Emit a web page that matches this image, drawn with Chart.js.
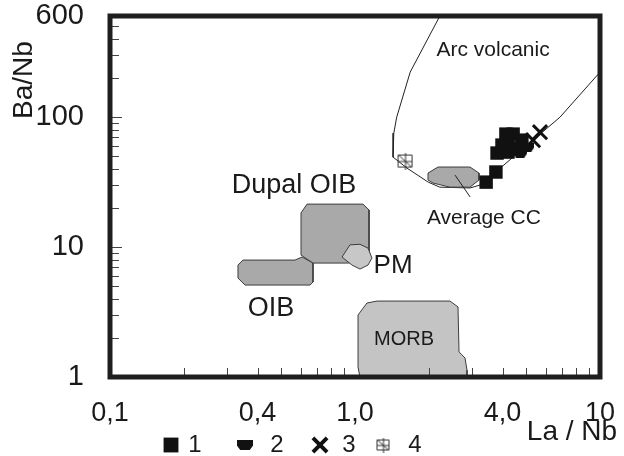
<!DOCTYPE html>
<html>
<head>
<meta charset="utf-8">
<script src="https://cdn.jsdelivr.net/npm/chart.js@4.4.1/dist/chart.umd.min.js"></script>
<style>
  html, body { margin: 0; padding: 0; background: #fff; }
</style>
</head>
<body>
<canvas id="chart-la-ba" width="624" height="456"></canvas>
<script>
  /* ============ DATOS ============ */

  // ejes (log)
  const xTicks = [0.1, 0.4, 1, 4, 10];
  const xTickLabels = ['0,1', '0,4', '1,0', '4,0', '10'];
  const yTicks = [1, 10, 100, 600];
  const yTickLabels = ['1', '10', '100', '600'];
  const xMinor = [0.2, 0.3, 0.4, 0.5, 0.6, 0.7, 0.8, 0.9, 2, 3, 4, 5, 6, 7, 8, 9];
  const yMinor = [2, 3, 4, 5, 6, 7, 8, 9, 10, 20, 30, 40, 50, 60, 70, 80, 90, 100, 200, 300, 400, 500];

  // muestras [La/Nb, Ba/Nb]
  const group1 = [[3.43, 31.6], [3.76, 37.8], [3.80, 52.9], [4.21, 53.8], [3.98, 60.9], [4.21, 63.1],
                  [4.13, 74.0], [4.42, 74.0], [4.80, 66.5], [4.50, 57.7]];
  const group2 = [[4.72, 52.9], [5.04, 58.8]];
  const group3 = [[5.33, 66.5], [5.69, 76.6]];
  const group4 = [[1.60, 45.9]];

  // campos
  const oibField   = [[0.349, 7.94], [0.569, 7.94], [0.608, 8.38], [0.674, 7.53], [0.674, 5.38], [0.655, 5.10],
                      [0.356, 5.10], [0.333, 5.77], [0.333, 7.27], [0.349, 7.94]];
  const dupalField = [[0.602, 18.3], [0.637, 21.4], [1.078, 21.4], [1.141, 19.3], [1.141, 7.94], [0.936, 7.53],
                      [0.674, 7.53], [0.602, 8.68], [0.602, 18.3]];
  const pmField    = [[0.885, 8.38], [0.954, 10.4], [1.048, 10.5], [1.130, 9.82], [1.173, 8.23], [1.130, 7.27],
                      [1.048, 6.77], [0.972, 7.27], [0.885, 8.38]];
  const morbField  = [[1.029, 3.00], [1.119, 3.71], [1.230, 3.84], [2.442, 3.84], [2.633, 3.46], [2.658, 1.56],
                      [2.812, 1.40], [2.865, 1.13], [2.865, 1.0], [1.048, 1.0], [1.029, 1.19], [1.029, 3.00]];
  const ccField    = [[1.986, 37.1], [2.182, 41.3], [2.947, 41.3], [3.207, 37.1], [3.207, 32.8], [2.947, 28.9],
                      [2.442, 28.9], [2.082, 31.1], [1.986, 32.8], [1.986, 37.1]];
  const arcLine    = [[2.22, 600], [1.68, 222], [1.48, 100], [1.44, 75.3], [1.43, 49.2], [1.50, 45.9], [1.63, 40.5],
                      [1.99, 31.6], [2.22, 28.9], [2.95, 28.5], [3.43, 31.0], [3.83, 39.1], [6.87, 100], [10, 222]];
  const ccPointer  = [[2.56, 35.8], [2.95, 24.3]];

  // rótulos de los campos
  const notes = [
    { text: 'Arc volcanic', x: 3.66, y: 327, size: 21 },
    { text: 'Dupal OIB',    x: 0.564, y: 29.5, size: 27 },
    { text: 'PM',           x: 1.43, y: 7.14, size: 26 },
    { text: 'OIB',          x: 0.454, y: 3.34, size: 27 },
    { text: 'MORB',         x: 1.585, y: 1.96, size: 20 },
    { text: 'Average CC',   x: 3.36, y: 16.7, size: 21 }
  ];

  const FONT = '"Liberation Sans", Arial, sans-serif';
  const xy = arr => arr.map(([x, y]) => ({ x, y }));

  /* ============ SIMBOLOS ============ */

  function markTwo(w, h) {
    const c = document.createElement('canvas');
    c.width = w; c.height = h;
    const g = c.getContext('2d');
    g.fillStyle = '#111';
    g.beginPath();
    g.moveTo(0, 0); g.lineTo(w, 0); g.lineTo(w, h * 0.55);
    g.lineTo(w * 0.8, h); g.lineTo(w * 0.2, h); g.lineTo(0, h * 0.55);
    g.closePath(); g.fill();
    return c;
  }

  function markFour(s) {
    const c = document.createElement('canvas');
    c.width = s; c.height = s;
    const g = c.getContext('2d');
    g.strokeStyle = '#333'; g.lineWidth = 1;
    g.beginPath();
    g.rect(1.5, 2.5, s - 3, s - 5);
    g.moveTo(1, s / 2 + 0.5); g.lineTo(s - 1, s / 2 + 0.5);
    g.moveTo(s / 2 + 0.5, 0); g.lineTo(s / 2 + 0.5, s);
    g.moveTo(2, 2.5); g.lineTo(s - 2, s - 2.5);
    g.stroke();
    return c;
  }

  /* ============ GRAFICO ============ */

  const field = (label, data, bg, order) => ({
    label, data: xy(data), showLine: true, fill: 'shape', tension: 0,
    backgroundColor: bg, borderColor: '#3c3c3c', borderWidth: 1,
    pointRadius: 0, pointHoverRadius: 0, order
  });

  const line = (label, data, order) => ({
    label, data: xy(data), showLine: true, fill: false, tension: 0,
    borderColor: '#222', borderWidth: 1, pointRadius: 0, pointHoverRadius: 0, order
  });

  const datasets = [
    line('Arc volcanic', arcLine, 20),
    field('OIB', oibField, '#a9a9a9', 19),
    field('Dupal OIB', dupalField, '#a9a9a9', 18),
    field('PM', pmField, '#c7c7c7', 17),
    field('MORB', morbField, '#c4c4c4', 16),
    field('Average CC', ccField, '#a9a9a9', 15),
    line('pointer', ccPointer, 14),
    { label: '4', data: xy(group4), pointStyle: markFour(17), pointRadius: 9, legend: true, order: 4 },
    { label: '1', data: xy(group1), pointStyle: 'rect', pointRadius: 9.5,
      pointBackgroundColor: '#111', pointBorderColor: '#111', pointBorderWidth: 0, legend: true, order: 3 },
    { label: '2', data: xy(group2), pointStyle: markTwo(14, 9), pointRadius: 7, legend: true, order: 2 },
    { label: '3', data: xy(group3), pointStyle: 'crossRot', pointRadius: 10,
      pointBorderColor: '#111', pointBorderWidth: 3, legend: true, order: 1 }
  ];

  const legendMarks = {
    '1': { pointStyle: 'rect', radius: 10.5, fill: '#111', width: 0 },
    '2': { pointStyle: markTwo(16, 10), radius: 8 },
    '3': { pointStyle: 'crossRot', radius: 10, stroke: '#111', width: 4 },
    '4': { pointStyle: markFour(15), radius: 8 }
  };

  const decor = {
    id: 'decor',
    afterDatasetsDraw(chart) {
      const { ctx, chartArea: a, scales: { x, y } } = chart;
      ctx.save();

      // marcas internas
      ctx.strokeStyle = '#444';
      ctx.lineWidth = 1;
      ctx.beginPath();
      xMinor.forEach(v => {
        const px = Math.round(x.getPixelForValue(v)) + 0.5;
        ctx.moveTo(px, a.bottom); ctx.lineTo(px, a.bottom - 9);
      });
      yMinor.forEach(v => {
        const py = Math.round(y.getPixelForValue(v)) + 0.5;
        ctx.moveTo(a.left, py); ctx.lineTo(a.left + (v === 10 || v === 100 ? 12 : 9), py);
      });
      ctx.stroke();

      // rótulos
      ctx.fillStyle = '#1a1a1a';
      ctx.textAlign = 'center';
      ctx.textBaseline = 'middle';
      notes.forEach(n => {
        ctx.font = n.size + 'px ' + FONT;
        ctx.fillText(n.text, x.getPixelForValue(n.x), y.getPixelForValue(n.y));
      });

      // marco
      ctx.lineWidth = 5;
      ctx.strokeStyle = '#1e1e1e';
      ctx.strokeRect(a.left, a.top, a.right - a.left, a.bottom - a.top);
      ctx.restore();
    },
    afterDraw(chart) {
      const { ctx } = chart;
      ctx.save();
      ctx.fillStyle = '#1a1a1a';
      ctx.textBaseline = 'middle';

      // titulos de ejes
      ctx.font = '28px ' + FONT;
      ctx.textAlign = 'center';
      ctx.fillText('La / Nb', 572, 432);
      ctx.translate(24, 80);
      ctx.rotate(-Math.PI / 2);
      ctx.fillText('Ba/Nb', 0, 0);
      ctx.setTransform(1, 0, 0, 1, 0, 0);

      // leyenda
      const pos = { '1': [171, 195], '2': [245, 277], '3': [320, 349], '4': [383, 415] };
      ctx.font = '24px ' + FONT;
      chart.data.datasets.filter(d => d.legend).forEach(d => {
        const [mx, tx] = pos[d.label];
        const m = legendMarks[d.label];
        ctx.fillStyle = m.fill || '#111';
        ctx.strokeStyle = m.stroke || '#111';
        ctx.lineWidth = m.width || 1;
        Chart.helpers.drawPoint(ctx, { rotation: 0, pointStyle: m.pointStyle, radius: m.radius, borderWidth: m.width || 0 }, mx, 445);
        ctx.fillStyle = '#1a1a1a';
        ctx.fillText(d.label, tx, 445);
      });
      ctx.restore();
    }
  };

  new Chart(document.getElementById('chart-la-ba'), {
    type: 'scatter',
    data: { datasets },
    options: {
      responsive: false,
      animation: false,
      events: [],
      layout: { padding: { top: 16, right: 24, left: 0, bottom: 0 } },
      plugins: { legend: { display: false }, tooltip: { enabled: false } },
      scales: {
        x: {
          type: 'logarithmic', min: 0.1, max: 10,
          grid: { display: false }, border: { display: false },
          afterBuildTicks: s => { s.ticks = xTicks.map(value => ({ value })); },
          afterFit: s => { s.height = 79; s.paddingLeft = 0; s.paddingRight = 0; },
          ticks: {
            autoSkip: false, maxRotation: 0, padding: 12, color: '#1a1a1a',
            font: { family: FONT, size: 27 },
            callback: v => xTickLabels[xTicks.indexOf(v)]
          }
        },
        y: {
          type: 'logarithmic', min: 1, max: 600,
          grid: { display: false }, border: { display: false },
          afterBuildTicks: s => { s.ticks = yTicks.map(value => ({ value })); },
          afterFit: s => { s.width = 110; s.paddingTop = 0; s.paddingBottom = 0; },
          ticks: {
            autoSkip: false, padding: 18, color: '#1a1a1a',
            font: { family: FONT, size: 29 },
            callback: v => yTickLabels[yTicks.indexOf(v)]
          }
        }
      }
    },
    plugins: [decor]
  });
</script>
</body>
</html>
